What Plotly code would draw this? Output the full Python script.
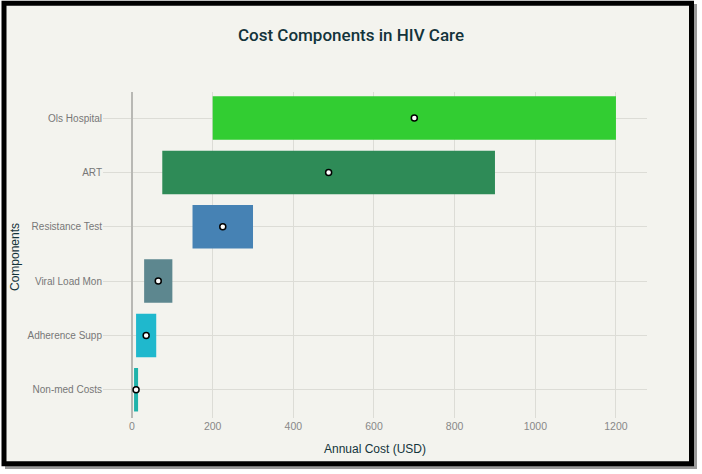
import plotly.graph_objects as go

components = ["Non-med Costs", "Adherence Supp", "Viral Load Mon", "Resistance Test", "ART", "Ols Hospital"]
low_cost = [5, 10, 30, 150, 75, 200]
high_cost = [15, 60, 100, 300, 900, 1200]
mid_cost = [10, 35, 65, 225, 487.5, 700]
bar_colors = ["#20B2AA", "#1FB8CD", "#5D878F", "#4682B4", "#2E8B57", "#32CD32"]

W, H = 702, 474
ML, MR, MT, MB = 103, 55, 92, 56
PW, PH = W - ML - MR, H - MT - MB
FONT = "Liberation Sans, Arial, sans-serif"


def px(x):
    return (x - ML) / PW


def py(y):
    return (H - MB - y) / PH


fig = go.Figure()
fig.add_trace(go.Bar(
    y=components,
    x=[h - l for l, h in zip(low_cost, high_cost)],
    base=low_cost,
    orientation="h",
    width=0.8,
    marker=dict(color=bar_colors, line=dict(width=0)),
    showlegend=False,
))
fig.add_trace(go.Scatter(
    y=components,
    x=mid_cost,
    mode="markers",
    marker=dict(color="white", size=6, line=dict(color="black", width=1.5)),
    showlegend=False,
))

# frame with shadow
fig.add_shape(type="rect", xref="paper", yref="paper",
              x0=px(7), x1=px(695), y0=py(467), y1=py(6),
              line=dict(color="#9a9a9a", width=4), fillcolor="rgba(0,0,0,0)", layer="below")
fig.add_shape(type="rect", xref="paper", yref="paper",
              x0=px(4), x1=px(691.5), y0=py(463.8), y1=py(3.3),
              line=dict(color="black", width=5), fillcolor="#F3F3EE", layer="below")

fig.add_annotation(text="Components", xref="paper", yref="paper",
                   x=px(15), y=py(257), xanchor="center", yanchor="middle",
                   textangle=-90, showarrow=False,
                   font=dict(family=FONT, size=12, color="#13343B"))

fig.update_layout(
    width=W, height=H,
    margin=dict(l=ML, r=MR, t=MT, b=MB),
    paper_bgcolor="white",
    plot_bgcolor="rgba(0,0,0,0)",
    font=dict(family=FONT, size=11, color="#777"),
    title=dict(text="Cost Components in HIV Care", x=0.5, xanchor="center",
               y=1 - 35 / H, yanchor="middle",
               font=dict(family="Roboto, Liberation Sans, sans-serif", size=17,
                         weight=500, color="#13343B")),
    bargap=0.2,
    showlegend=False,
)
fig.update_xaxes(
    range=[-72, 1277],
    tickvals=[0, 200, 400, 600, 800, 1000, 1200],
    showgrid=True, gridcolor="#dcdcd6", gridwidth=1,
    zeroline=True, zerolinecolor="#b8b8b4", zerolinewidth=2,
    showline=False, ticks="",
    tickfont=dict(family=FONT, size=10.5, color="#888"),
    title=dict(text="Annual Cost (USD)", font=dict(family=FONT, size=12, color="#13343B"), standoff=14),
    automargin=False,
)
fig.update_yaxes(
    range=[-0.52, 5.48],
    categoryorder="array", categoryarray=components,
    showgrid=True, gridcolor="#dcdcd6", gridwidth=1,
    showline=False, ticks="",
    tickfont=dict(family=FONT, size=10, color="#777"),
    automargin=False,
)

fig.write_html("out.html")
